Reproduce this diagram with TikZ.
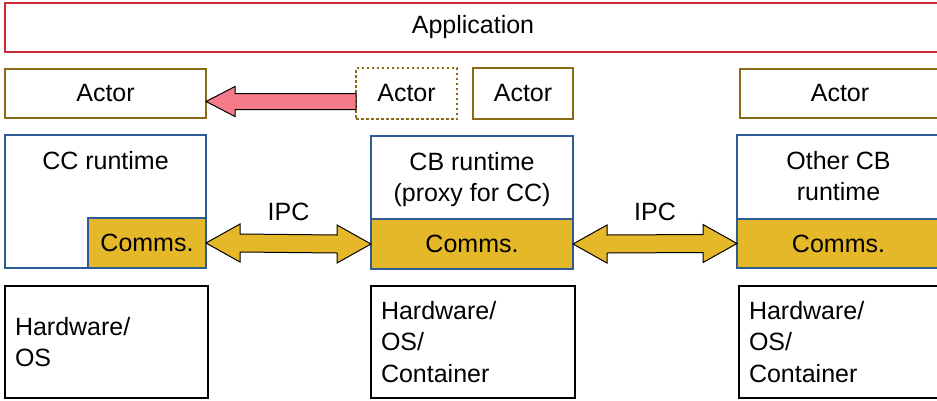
\documentclass[tikz,border=0pt]{standalone}
\usepackage{fontspec}
\setmainfont{Liberation Sans}
\usetikzlibrary{math,calc}

\definecolor{appred}{HTML}{CC2B38}
\definecolor{actbrown}{HTML}{8B6A16}
\definecolor{rtblue}{HTML}{2C5B97}
\definecolor{commgold}{HTML}{E5B829}
\definecolor{movepink}{HTML}{F47B87}

\begin{document}
\begin{tikzpicture}[x=1pt,y=-1pt,
	every node/.style={font=\fontsize{25}{31.5}\selectfont,inner sep=0pt,outer sep=0pt},
	box/.style={draw,line width=1.2pt,anchor=north west},
	app/.style={box,draw=appred},
	actor/.style={box,draw=actbrown},
	runtime/.style={box,draw=rtblue},
	comms/.style={box,draw=rtblue,fill=commgold},
	hw/.style={box,draw=black,align=left,inner sep=10pt},
	ipc/.style={draw=black,line width=1pt,fill=commgold,line join=miter},
	move/.style={draw=black,line width=1pt,fill=movepink,line join=miter}]
	
	\tikzmath{
		\hl = 34; \hw = 19; \sw = 9;
		\ml = 29; \mw = 15; \msw = 8;
	}
	
	\useasboundingbox (0,0) rectangle (937,400);
	\clip (0,0) rectangle (937,400);
	
	%---------------------------------------------
	
	\node[app,minimum width=936,minimum height=49] (app) at (5,3) {Application};
	
	\node[actor,minimum width=201,minimum height=49] (act1) at (5,69) {Actor};
	\node[actor,minimum width=101,minimum height=51,dash pattern=on 2.5pt off 2.5pt] (act2) at (356,68) {Actor};
	\node[actor,minimum width=100,minimum height=51] (act3) at (473,68) {Actor};
	\node[actor,minimum width=200,minimum height=49] (act4) at (740,69) {Actor};
	
	%---------------------------------------------
	
	\node[runtime,minimum width=201,minimum height=133] (ccrt) at (5,135) {};
	\node[anchor=north] (cctitle) at ($(ccrt.north)+(0,16)$) {CC runtime};
	\node[comms,minimum width=118,minimum height=50] (ccc) at (88,218) {Comms.};
	
	\node[runtime,minimum width=202,minimum height=133] (cbrt) at (371,136) {};
	\node[anchor=north,align=center] (cbtitle) at ($(cbrt.north)+(0,16)$) {CB runtime\\(proxy for CC)};
	\node[comms,minimum width=202,minimum height=50] (cbc) at (371,219) {Comms.};
	
	\node[runtime,minimum width=203,minimum height=133] (obrt) at (737,135) {};
	\node[anchor=north,align=center] (obtitle) at ($(obrt.north)+(0,16)$) {Other CB\\runtime};
	\node[comms,minimum width=203,minimum height=49] (obc) at (737,219) {Comms.};
	
	%---------------------------------------------
	
	\node[hw,minimum width=203,minimum height=112,text width=183] (hw1) at (5,286) {Hardware/\\OS};
	\node[hw,minimum width=204,minimum height=112,text width=184] (hw2) at (371,286) {Hardware/\\OS/\\Container};
	\node[hw,minimum width=203,minimum height=112,text width=183] (hw3) at (739,286) {Hardware/\\OS/\\Container};
	
	%---------------------------------------------%
	
	\draw[ipc] (ccc.east) -- ($(ccc.east)+(\hl,-\hw)$) -- ($(ccc.east)+(\hl,-\sw)$)
		-- ($(cbc.west)+(-\hl,-\sw)$) -- ($(cbc.west)+(-\hl,-\hw)$) -- (cbc.west)
		-- ($(cbc.west)+(-\hl,\hw)$) -- ($(cbc.west)+(-\hl,\sw)$)
		-- ($(ccc.east)+(\hl,\sw)$) -- ($(ccc.east)+(\hl,\hw)$) -- cycle;
	\node (ipc1) at ($(ccc.east)!0.5!(cbc.west)+(0,-32)$) {IPC};
	
	\draw[ipc] (cbc.east) -- ($(cbc.east)+(\hl,-\hw)$) -- ($(cbc.east)+(\hl,-\sw)$)
		-- ($(obc.west)+(-\hl,-\sw)$) -- ($(obc.west)+(-\hl,-\hw)$) -- (obc.west)
		-- ($(obc.west)+(-\hl,\hw)$) -- ($(obc.west)+(-\hl,\sw)$)
		-- ($(cbc.east)+(\hl,\sw)$) -- ($(cbc.east)+(\hl,\hw)$) -- cycle;
	\node (ipc2) at ($(cbc.east)!0.5!(obc.west)+(0,-32)$) {IPC};
	
	%---------------------------------------------%
	
	\coordinate (mvtip) at ($(act1.east)+(0,8)$);
	\coordinate (mvtail) at ($(act2.west)+(0,8)$);
	\draw[move] (mvtip) -- ($(mvtip)+(\ml,-\mw)$) -- ($(mvtip)+(\ml,-\msw)$)
		-- ($(mvtail)+(0,-\msw)$) -- ($(mvtail)+(0,\msw)$)
		-- ($(mvtip)+(\ml,\msw)$) -- ($(mvtip)+(\ml,\mw)$) -- cycle;
	
	%---------------------------------------------
	
\end{tikzpicture}
\end{document}
